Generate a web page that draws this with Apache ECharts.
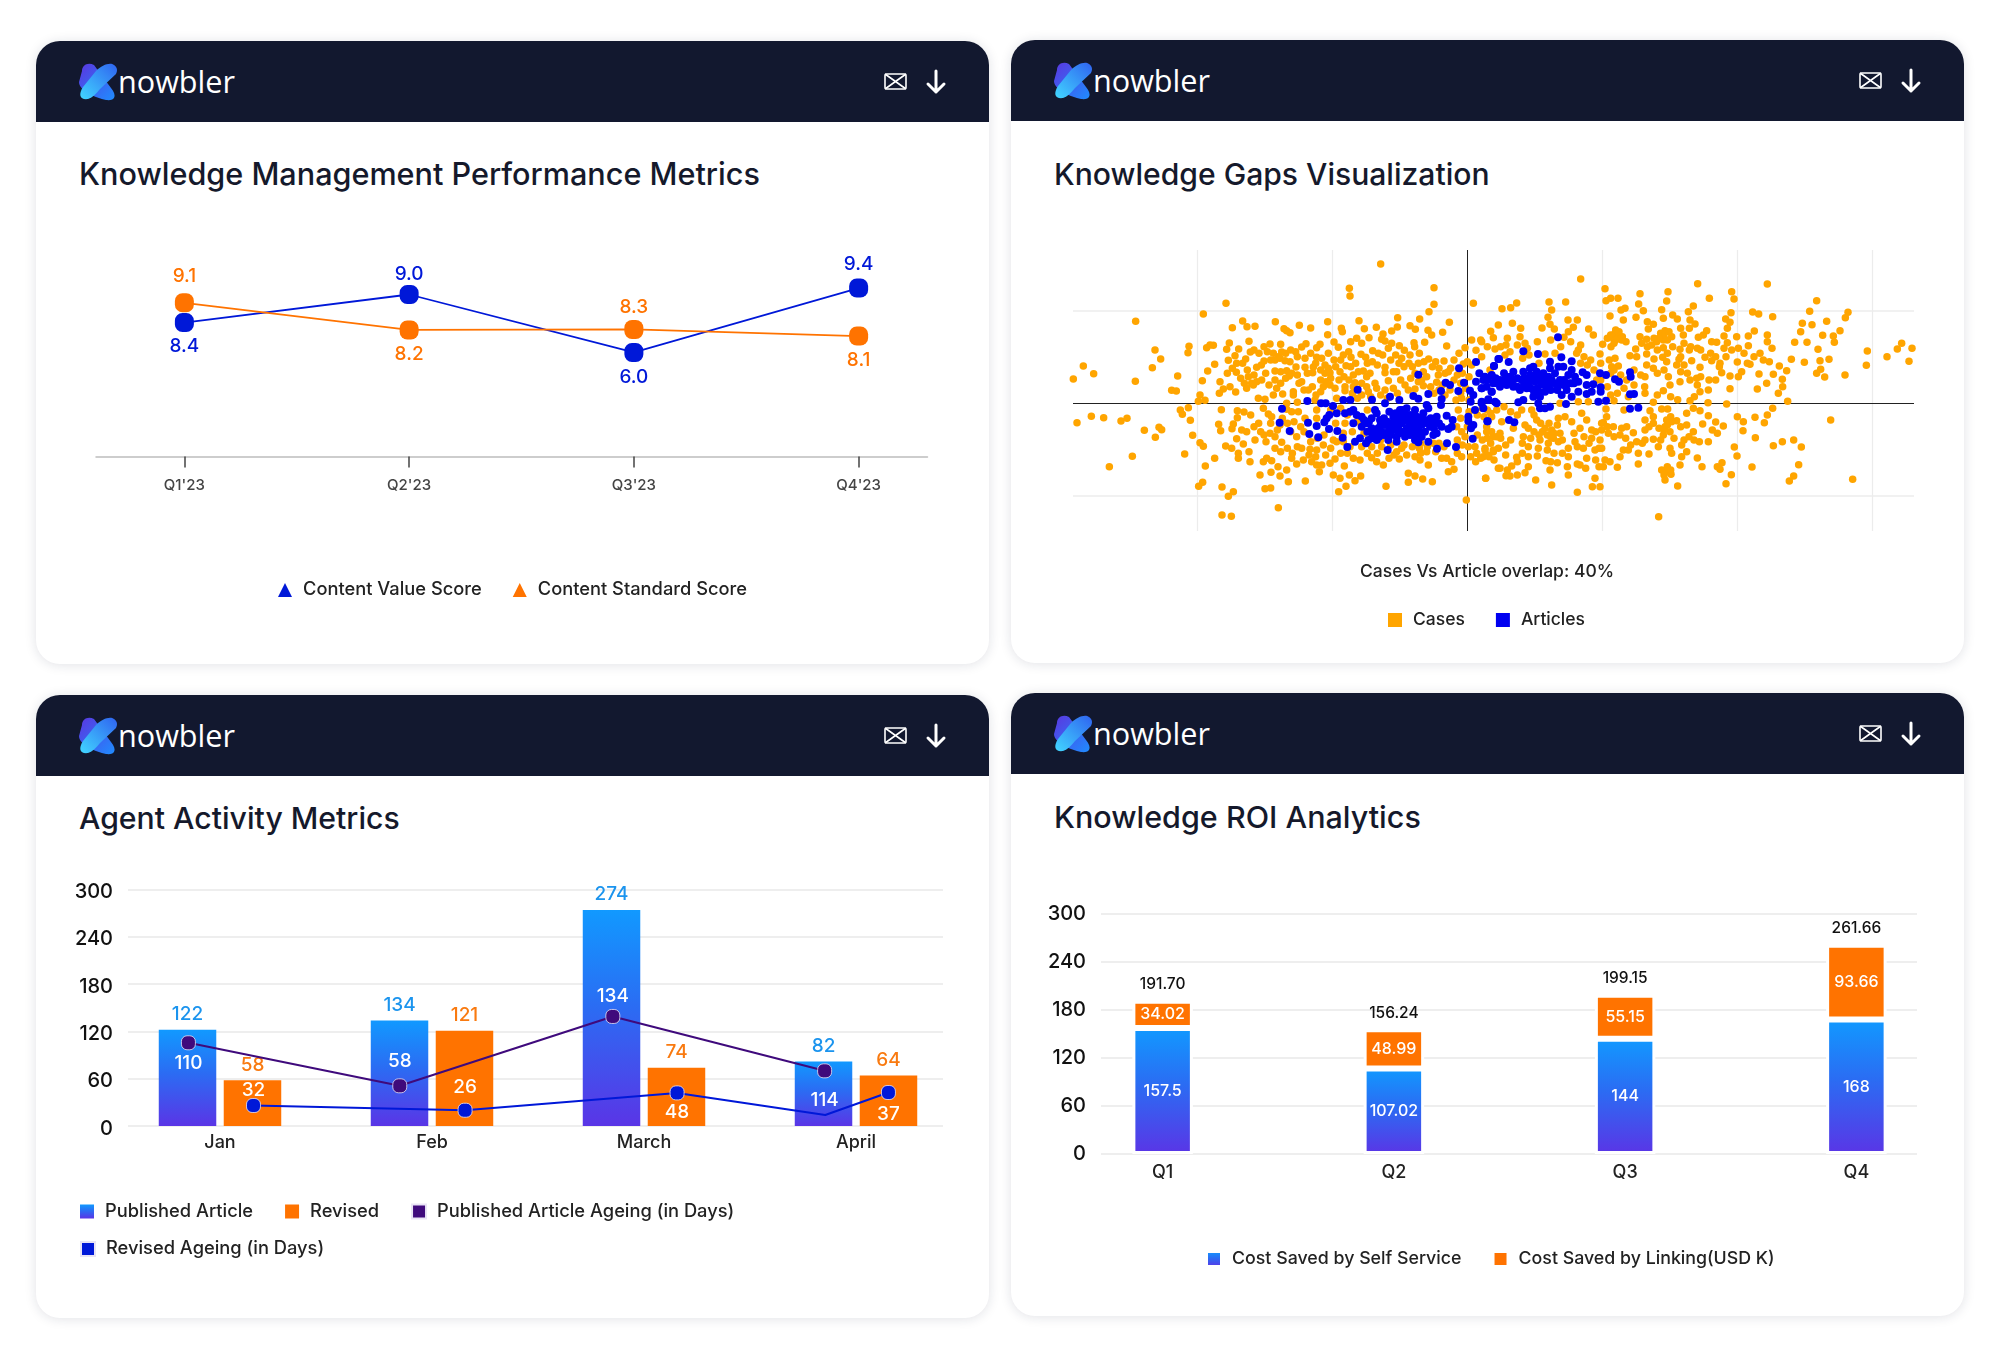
<!DOCTYPE html>
<html>
<head>
<meta charset="utf-8">
<title>Knowbler dashboards</title>
<script src="https://cdn.jsdelivr.net/npm/echarts@6/dist/echarts.min.js"></script>
<style>
html,body{margin:0;padding:0;background:#fff;width:2000px;height:1372px;overflow:hidden;font-family:Inter,"Noto Sans",sans-serif}
.card{position:absolute;width:953px;height:623px;border-radius:24px;background:#fff;box-shadow:0 1px 12px rgba(20,30,60,.13);overflow:hidden}
.head{position:absolute;left:0;top:0;width:100%;height:81px;background:#12182f}
.head svg{position:absolute;left:0;top:0}
.ttl{position:absolute;left:43px;font-weight:500;color:#15192b;white-space:nowrap;line-height:36px}
.cv{position:absolute;left:0;top:0;width:953px;height:623px}
</style>
</head>
<body>
<script>
// ---- Knowledge Management Performance Metrics
const quarters23 = ["Q1'23", "Q2'23", "Q3'23", "Q4'23"]
const valueScoreLabels = ['8.4', '9.0', '6.0', '9.4']
const standardScoreLabels = ['9.1', '8.2', '8.3', '8.1']
// where the points sit on the picture, they do not follow the printed labels exactly
const valueScore = [7.44, 9.0, 5.78, 9.36]
const standardScore = [8.54, 7.03, 7.06, 6.69]

// ---- Knowledge Gaps Visualization (one grid step: x 405, y 278)
const cases = [
[-1182,73],[-1152,112],[-1121,89],[-1171,-58],[-1128,-39],[-1091,-43],[-1039,-53],[-1021,-45],[-1074,-190],[-1005,-159],[-995,246],[-937,160],[-920,133],[-945,107],[-996,66],[-869,82],[-887,39],[-873,37],[-861,-20],[-855,-33],[-837,-13],[-831,-51],[-925,-72],[-917,-79],[-936,-102],[-969,-81],[-824,-96],[-848,-152],[-802,-118],[-792,-129],[-758,-165],[-786,-188],[-806,-249],[-794,-237],[-736,-251],[-702,-265],[-717,-279],[-736,-335],[-708,-339],[-567,-313],[-792,268],[-724,300],[-260,418],[-354,345],[-352,322],[-100,347],[-100,297],[-115,275],[18,300],[-3,-290],[55,-225],[-244,-249],[-364,-249],[-386,-265],
[-674,247],[-705,227],[-661,230],[-637,231],[-576,245],[-550,224],[-542,218],[-532,212],[-504,234],[-470,226],[-419,245],[-378,225],[-375,215],[-325,248],[-309,224],[-273,228],[-253,208],[-227,217],[-210,229],[-209,257],[-172,233],[-156,222],[-143,253],[-118,219],[-107,205],[-74,213],[-54,243],
[-835,171],[-838,152],[-782,167],[-772,175],[-762,174],[-722,162],[-714,181],[-686,163],[-697,143],[-655,186],[-651,154],[-610,170],[-592,178],[-560,177],[-582,150],[-567,140],[-557,154],[-497,169],[-484,179],[-452,167],[-442,177],[-419,206],[-400,184],[-387,168],[-417,150],[-372,145],[-350,185],[-332,195],[-317,180],[-295,197],[-356,155],[-349,138],[-319,147],[-305,138],[-284,158],[-257,192],[-247,187],[-227,180],[-237,165],[-267,150],[-254,145],[-204,173],[-189,159],[-160,182],[-158,170],[-144,150],[-172,145],[-197,135],[-128,183],[-62,172],[-7,167],[13,190],[40,190],[26,159],
[-717,129],[-692,120],[-674,120],[-665,133],[-758,117],[-779,97],[-795,68],[-693,93],[-657,80],[-632,108],[-618,115],[-610,127],[-577,130],[-562,135],[-547,128],[-532,125],[-510,140],[-487,135],[-452,138],[-437,135],[-514,109],[-487,108],[-462,109],[-427,115],[-417,105],[-577,97],[-560,95],[-542,98],[-527,90],[-534,82],[-480,90],[-464,92],[-427,90],[-412,92],[-382,95],[-364,113],[-247,108],[-147,120],[-116,133],[-70,127],[-50,105],[0,125],[-12,118],[-342,85],[-327,95],[-312,97],[-292,90],[-302,80],[-247,92],[-222,95],[-212,95],[-157,90],[-132,95],[-122,80],[-87,85],[-67,90],[-57,95],[13,115],[68,100],
[-742,65],[-712,50],[-732,43],[-744,30],[-695,34],[-802,25],[-807,6],[-787,9],[-669,60],[-647,60],[-632,65],[-662,45],[-617,70],[-642,55],[-577,70],[-572,45],[-582,25],[-554,28],[-627,15],[-607,12],[-522,35],[-522,25],[-497,65],[-465,50],[-477,40],[-454,25],[-424,65],[-412,55],[-397,45],[-432,50],[-367,50],[-367,38],[-337,62],[-342,50],[-317,60],[-302,50],[-277,60],[-272,45],[-317,25],[-297,35],[-247,40],[-237,68],[-222,45],[-187,55],[-177,40],[-147,65],[-137,70],[-132,53],[-157,43],[-92,63],[-52,40],[-67,25],[-17,15],[-34,10],[-542,0],[-510,3],[-457,10],[-392,15],
[-738,-19],[-690,-22],[-670,-26],[-690,-43],[-612,-15],[-597,-32],[-587,-40],[-626,-60],[-542,-18],[-527,-25],[-507,-25],[-487,-45],[-452,-20],[-452,-45],[-746,-63],[-740,-82],[-702,-62],[-706,-76],[-677,-80],[-662,-85],[-692,-106],[-637,-110],[-604,-115],[-592,-90],[-570,-80],[-562,-65],[-577,-100],[-557,-117],[-577,-135],[-672,-122],[-725,-128],[-707,-135],[-687,-150],[-687,-165],[-655,-145],[-652,-175],[-512,-100],[-510,-130],[-497,-135],[-472,-138],[-452,-140],[-432,-125],[-410,-135],[-392,-115],[-367,-60],[-372,-90],[-402,-110],[-372,-115],[-352,-130],[-317,-130],[-287,-130],[-257,-130],[-212,-145],[-197,-135],[-182,-155],[-157,-160],[-144,-135],[-122,-145],[-102,-120],[-77,-165],[-62,-165],[-47,-175],[-17,-160],[3,-130],[23,-130],[28,-150],[25,-175],[53,-135],[78,-140],[93,-195],[-27,-20],[-32,-70],[-17,-85],[-7,-100],[58,-70],[73,-85],[88,-100],
[-612,-175],[-602,-165],[-587,-172],[-568,-190],[-589,-207],[-622,-215],[-562,-218],[-542,-200],[-527,-165],[-512,-182],[-492,-170],[-467,-175],[-452,-185],[-437,-185],[-412,-180],[-397,-167],[-369,-188],[-444,-205],[-402,-215],[-537,-235],[-486,-233],[-382,-225],[-354,-215],[-320,-218],[-337,-232],[-607,-256],[-590,-254],[-342,-165],[-322,-170],[-287,-163],[-272,-175],[-252,-185],[-204,-167],[-142,-170],[-117,-185],[-40,-198],[-57,-205],[-177,-210],[-177,-237],[-157,-218],[-134,-227],[-105,-235],
[340,373],[413,344],[691,359],[900,358],[793,335],[800,313],[1048,308],[1142,273],[1134,257],[1027,276],[1078,246],[1005,240],[1034,236],[1000,215],[1118,218],[1066,204],[1098,202],[1101,183],[982,183],[1019,183],[1052,162],[1200,157],[1259,140],[1303,180],[1290,163],[1334,165],[1325,126],[1197,114],[1085,132],[1058,128],[1011,123],[972,132],[1060,102],[1048,90],[1072,79],[1133,85],[1090,-50],[1156,-228],[574,-340],[330,-267],[961,6],[916,-15],[900,-35],[891,-58],[863,-42],[828,-55],[810,-40],[827,-82],[864,-103],[801,-131],[809,-158],[918,-127],[945,-115],[979,-110],[1002,-131],[994,-184],[979,-218],[966,-233],[854,-191],[792,-214],[776,-241],[750,-190],[764,-178],[758,-198],[704,-190],[690,-164],[631,-248],[593,-230],[583,-200],[598,-205],[611,-213],[638,-185],[643,-160],[658,-145],
[518,329],[602,335],[598,307],[726,315],[416,308],[430,315],[452,315],[514,298],[473,285],[461,280],[528,278],[583,281],[678,292],[663,275],[791,272],[856,274],[874,268],[916,260],[428,262],[468,250],[506,258],[540,245],[558,237],[588,255],[616,265],[630,253],[668,250],[683,238],[775,253],[788,243],[780,225],[640,225],[666,225],[718,218],[543,223],[593,218],[443,210],[453,200],[438,195],[463,190],[476,185],[518,200],[538,192],[553,175],[568,185],[588,190],[613,200],[648,205],[693,198],[708,205],[733,185],[748,183],[770,202],[780,182],[808,200],[843,202],[861,217],[900,205],[900,185],[843,173],[813,165],[793,160],[914,165],[406,177],[431,170],[505,163],[523,180],[588,167],[616,170],[638,162],[666,160],[398,148],[488,143],[508,140],[538,148],[560,133],[586,138],[426,130],[443,135],[453,112],[538,115],[558,105],[598,125],[635,132],[628,115],[650,115],[673,128],[698,108],[713,138],[733,128],[758,120],[756,110],[776,140],[810,124],[848,117],[878,150],[888,130],[906,125],[936,112],[958,98],[763,92],[788,82],[823,95],[813,80],[875,88],[918,87],[945,72],[946,50],[933,30],[898,60],[870,43],[788,44],[723,40],[698,35],[668,70],[688,75],[638,65],[603,80],[608,55],[588,38],[533,80],[532,50],[533,30],[483,20],[558,3],[631,11],[668,8],[681,20],[722,2],[778,-2],[478,70],[433,110],[388,70],
[148,301],[130,287],[104,284],[245,304],[295,304],[253,280],[242,258],[135,240],[70,216],[93,235],[160,225],[224,226],[248,237],[261,223],[302,250],[330,250],[318,228],[303,215],[290,198],[364,223],[378,205],[78,197],[158,200],[173,180],[43,185],[83,163],[116,175],[128,155],[333,160],[328,150],[263,150],[233,148],[166,135],[113,145],[43,140],
[416,-17],[470,-20],[548,-22],[583,-17],[601,-17],[658,-30],[678,-15],[698,-22],[723,-37],[745,-56],[768,-68],[706,-62],[658,-65],[678,-85],[735,-80],[750,-90],[696,-115],[723,-115],[598,-50],[613,-55],[628,-52],[593,-70],[608,-85],[588,-95],[533,-50],[558,-40],[558,-60],[533,-80],[508,-115],[533,-110],[558,-108],[573,-130],[608,-135],[613,-150],[643,-125],[418,-40],[403,-60],[438,-70],[463,-75],[478,-70],[498,-88],[458,-95],[423,-90],[398,-110],[373,-105],[403,-135],[468,-140],[483,-140],[513,-150],[545,-152],[458,-160],[513,-182],[450,-192],[413,-170],[408,-190],[428,-175],[383,-225],[375,-250],[398,-250],[338,-185],[303,-215],[253,-245],[205,-230],[150,-215],[128,-218],[116,-217],[98,-195],[55,-225],[133,-188],[148,-162],[183,-190],[173,-208],[248,-200],[270,-178],[236,-172],[183,-160],[210,-158],[303,-160],[330,-182],[358,-165],[383,-140],[348,-135],[303,-135],[273,-115],[258,-105],[243,-120],[218,-110],[213,-135],[183,-130],[323,-115],[373,-80],[403,-80],[338,-75],[313,-55],[293,-40],[273,-45],[253,-80],[278,-90],[233,-75],[168,-100],[183,-75],[173,-65],[208,-50],[98,-90],[78,-100],[58,-85],[93,-135],[78,-145],[53,-140],[48,-160],[138,-75],[103,-55],[73,-40],[88,-20],[163,-20],[193,-20],[358,-50],[343,-30],[408,-58],[278,0],[333,5],[363,5],
[-640,160],[-625,150],[-600,155],[-590,130],[-545,150],[-530,160],[-515,155],[-470,150],[-455,120],[-440,100],[-400,130],[-395,110],[-380,130],[-350,110],[-335,120],[-300,120],[-285,125],[-270,115],[-230,130],[-215,145],[-205,120],[-190,110],[-175,120],[-165,110],[-130,125],[-105,110],[-95,125],[-85,105],[-40,130],[-25,150],[-30,85],[-15,90],[5,80],
[-720,90],[-705,105],[-680,75],[-660,100],[-640,85],[-605,90],[-595,55],[-560,60],[-545,75],[-510,85],[-505,60],[-490,40],[-440,70],[-440,35],[-410,75],[-385,70],[-370,80],[-355,70],[-345,30],[-330,15],[-290,20],[-260,25],[-240,15],[-210,30],[-200,70],[-170,75],[-110,50],[-100,30],[-85,40],[-75,55],[-40,70],[-20,60],[-5,45],[-20,30],[5,10],
[-650,-35],[-640,-70],[-620,-85],[-610,-95],[-590,-60],[-555,-45],[-540,-60],[-530,-85],[-520,-55],[-500,-70],[-490,-85],[-470,-115],[-450,-105],[-430,-95],[-410,-20],[-395,-60],[-380,-15],[-360,-35],[-345,-85],[-330,-55],[-310,-90],[-300,-20],[-260,-110],[-230,-125],[-190,-125],[-165,-130],[-140,-120],[-120,-130],[-85,-120],[-70,-130],[-30,-110],[-15,-125],[0,-70],[5,-25],[30,-35],[45,-15],[50,-40],[70,-30],[-20,-45],[30,-95],[45,-110],[60,-105],[-560,-145],[-540,-135],[-525,-150],[-475,-155],[-455,-160],[-425,-155],[-380,-150],[-360,-150],[-300,-150],[-270,-150],[-235,-165],[-220,-155],[-140,-150],[-95,-145],[-30,-150],[10,-160],[40,-165],[60,-155],[80,-170],
[430,205],[445,190],[455,215],[465,200],[440,180],[420,195],[445,220],[580,210],[590,205],[605,215],[575,195],[600,190],[560,195],[540,170],[570,160],[600,150],[650,180],[670,170],[690,165],[640,140],[700,160],[730,150],[745,140],[770,165],[830,150],[860,140],[840,120],[440,100],[460,85],[430,90],[500,100],[520,85],[570,90],[590,100],[640,95],[660,90],[700,80],[725,70],[745,70],[690,55],[610,20],[570,25],[500,55],[470,45],[450,30],[430,25],[400,70],[420,50],[440,8],
[60,-20],[110,-10],[130,-25],[150,-35],[200,-35],[220,-60],[245,-60],[260,-90],[270,-65],[285,-110],[250,-100],[240,-95],[225,-85],[215,-95],[200,-85],[190,-105],[165,-120],[130,-110],[115,-125],[100,-105],[70,-120],[65,-160],[115,-155],[165,-150],[240,-140],[260,-150],[285,-150],[330,-130],[365,-120],[395,-135],[350,-100],[320,-90],[385,-85],[420,-70],[440,-100],[475,-105],[545,-70],[575,-75],[590,-80],[600,-65],[610,-40],[640,-70],[580,-110],[525,-120],[490,-125],[620,-105],[650,-110],[665,-100],[680,-110],[250,-175],[300,-190],[355,-195],[385,-170],[395,-190],[590,-215],[600,-190],[610,-200],[150,-175],[120,-200],
[120,195],[150,175],[180,165],[210,185],[250,190],[280,170],[310,185],[340,175],[350,140],[100,170],[60,170],[185,145],[215,120],[340,120],[370,130],[380,100],[400,120],[360,115]
]
const articles = [
[-556,-16],[-563,-58],[-533,-83],[-480,7],[-478,-58],[-474,-92],[-452,-68],[-447,-102],[-439,0],[-425,0],[-403,-8],[-414,-35],[-422,-45],[-429,-57],[-415,-77],[-390,-83],[-374,-103],[-360,-131],[-372,10],[-351,10],[-329,41],[-286,11],[-392,-30],[-367,-30],[-342,-20],[-332,-35],[-342,-60],[-317,-70],[-337,-115],[-322,-105],[-304,-120],[-287,-105],[-277,-90],[-267,-75],[-287,-75],[-302,-60],[-287,-45],[-272,-30],[-277,-20],[-247,-65],[-232,-70],[-217,-55],[-202,-40],[-202,-20],[-187,-35],[-197,-60],[-182,-75],[-167,-55],[-172,-95],[-157,-110],[-147,-117],[-212,-115],[-237,-110],[-239,-140],[-147,-80],[-137,-65],[-127,-50],[-132,-30],[-117,-15],[-117,-115],[-102,-95],[-92,-90],[-91,-136],[-61,-120],[-34,-131],[-92,-40],[-62,-37],[-77,-70],[-57,-77],[-44,-50],[-47,-70],[-247,0],[-232,20],[-204,10],[-234,-25],[-162,22],[-147,14],[-122,-5],[-117,28],[-147,86],[-65,62],[-52,55],[-25,105],[26,124],[-79,37],[-77,13],[-79,-5],[-27,37],[-10,62],[8,38],[18,25],[10,5],[23,-20],[3,-40],[3,-53],[18,-65],[11,-75],[16,-106],[61,-54],[26,65],[43,45],[36,90],[53,80],[73,85],[80,112],[93,133],[43,5],[63,12],[73,35],[88,60],[83,5],
[-262,-50],[-257,-85],[-222,-80],[-212,-100],[-187,-100],[-162,-70],[-182,-15],[-207,-75],[-137,-100],[-112,-70],[-102,-55],[-152,-40],[-317,-40],[-352,-25],[-297,-110],[-272,-110],[-222,-40],[-172,-35],[-157,-20],[-127,-85],[-237,-85],[-192,-50],[-177,-55],
[272,198],[168,156],[212,148],[282,138],[313,126],[95,133],[124,124],[80,112],[198,110],[248,125],[248,105],[273,110],[288,110],[313,100],[346,93],[358,85],[398,90],[416,85],[443,72],[455,65],[488,93],[490,80],[400,48],[400,35],[378,57],[358,55],[358,28],[373,35],[393,5],[416,8],[488,27],[500,28],[488,-16],[513,-13],[60,-54],[125,-50],[141,-57],
[48,70],[73,82],[98,70],[118,80],[138,95],[138,70],[168,95],[188,105],[188,85],[208,95],[228,90],[243,80],[263,90],[278,70],[303,85],[323,80],[333,65],[313,60],[298,40],[283,25],[313,20],[333,35],[263,60],[243,50],[223,60],[203,65],[183,60],[163,70],[138,50],[118,55],[98,50],[78,60],[58,50],[43,45],[73,35],[198,20],[218,20],[233,35],[213,0],[218,-15],[233,-15],[248,-10],[296,-2],[153,3],[88,0],[63,10],[43,0],[48,-15],[168,10],[158,40],[178,45],[253,70],[233,70],[213,80],[193,75],[288,55],
[-310,-50],[-295,-55],[-260,-65],[-250,-45],[-240,-55],[-225,-60],[-210,-65],[-195,-45],[-180,-40],[-170,-65],[-155,-60],[-145,-50],[-135,-45],[-120,-60],[-110,-45],[-100,-75],[-85,-60],[-230,-95],[-205,-90],[-190,-85],[-175,-85],[-160,-90],[-145,-95],[-250,-95],[-265,-100],[-285,-90],[-300,-85],[-160,-40],[-200,-55],[-215,-30],[-195,-20],
[100,65],[115,65],[130,60],[150,75],[170,75],[185,70],[200,80],[215,70],[230,80],[250,60],[270,55],[290,70],[305,60],[320,60],[150,50],[170,55],[190,45],[210,45],[230,55],[250,40],[270,40],[200,35],[215,35],[130,80],[110,90],[85,75],[60,70]
]
const gapGridX = [-810, -405, 405, 810, 1215]
const gapGridY = [-278, 278]

// ---- Agent Activity Metrics
const months = ['Jan', 'Feb', 'March', 'April']
const publishedArticle = [122, 134, 274, 82]
const revised = [58, 121, 74, 64]
const publishedAgeingAt = [[0.351, 105.6], [1.348, 51], [2.353, 139], [3.352, 70]]
const revisedAgeingAt = [[0.658, 26], [1.656, 20], [2.656, 42], [3.355, 14], [3.653, 42.5]]
const publishedAgeingLabels = ['110', '58', '134', '114']
const revisedAgeingLabels = ['32', '26', '48', '', '37']
const publishedAgeingSide = [['bottom', 4], ['top', 8], ['top', 3], ['bottom', 13]]
const revisedAgeingSide = [['top', -2], ['top', 6], ['bottom', 2], ['top', 0], ['bottom', 5]]

// ---- Knowledge ROI Analytics
const roiQuarters = ['Q1', 'Q2', 'Q3', 'Q4']
const selfService = [157.5, 107.02, 144, 168]
const linking = [34.02, 48.99, 55.15, 93.66]
const roiTotals = ['191.70', '156.24', '199.15', '261.66']

const FONT = 'Inter'
const BLUE = '#0018d8'
const ORANGE = '#ff7300'
const PURPLE = '#3f0a7c'
const ROUND = 'path://M4 0h2a4 4 0 0 1 4 4v2a4 4 0 0 1-4 4h-2a4 4 0 0 1-4-4v-2a4 4 0 0 1 4-4z'
const barBlue = new echarts.graphic.LinearGradient(0, 0, 0, 1, [
    { offset: 0, color: '#1199ff' },
    { offset: 0.45, color: '#2b6cf3' },
    { offset: 1, color: '#5a35e6' }
])
const gridLine = { show: true, lineStyle: { color: '#e8e8e8', width: 1.5 } }

function addCard(left, top, title, titleTop, titleSize) {
    let card = document.createElement('div')
    card.className = 'card'
    card.style.left = left + 'px'
    card.style.top = top + 'px'
    card.innerHTML = `
      <div class="head"><svg width="953" height="81" viewBox="0 0 953 81">
        <defs>
          <linearGradient id="a${left}${top}" x1="0" y1="0" x2="1" y2="1"><stop offset="0" stop-color="#5a36e0"/><stop offset="1" stop-color="#1f8cff"/></linearGradient>
          <linearGradient id="b${left}${top}" x1="1" y1="0" x2="0" y2="1"><stop offset="0" stop-color="#2f63f0"/><stop offset="1" stop-color="#41d6ff"/></linearGradient>
        </defs>
        <path d="M46 30 C46 24 52 21 58 24 L75 47 C82 56 78 60 70 59 C60 57 43 50 43 41 Z" fill="url(#a${left}${top})"/>
        <path d="M78 24 C74 21 66 24 60 30 L47 46 C42 54 44 59 52 58 C56 57 60 53 64 48 L80 33 C82 29 81 26 78 24 Z" fill="url(#b${left}${top})"/>
        <text x="82" y="52" fill="#fff" font-family="Open Sans" font-size="31" font-weight="400" textLength="117" lengthAdjust="spacingAndGlyphs">nowbler</text>
        <g fill="none" stroke="#fff" stroke-width="1.6"><rect x="849" y="33" width="21" height="15" rx="1.5"/><path d="M849 33 L870 48 M870 33 L849 48"/></g>
        <path d="M900 30 V51 M892 43 L900 51 L908 43" fill="none" stroke="#fff" stroke-width="3" stroke-linecap="round" stroke-linejoin="round"/>
      </svg></div>
      <div class="ttl" style="top:${titleTop}px;font-size:${titleSize}px">${title}</div>
      <div class="cv"></div>`
    document.body.appendChild(card)
    return window.echarts.init(card.querySelector('.cv'))
}

function legendAt(left, top, icon, names, gap, size) {
    return {
        left: left, top: top, icon: icon, data: names, itemWidth: 14, itemHeight: 14,
        itemGap: gap, padding: 0, selectedMode: false,
        textStyle: { fontFamily: FONT, fontSize: size || 18.3, fontWeight: 500, color: '#222', padding: [0, 0, 0, 6] }
    }
}

// ---- top left
let perf = addCard(36, 41, 'Knowledge Management Performance Metrics', 115, 30.6)
function scoreSeries(name, values, labels, color, sides) {
    return {
        name: name, type: 'line', xAxisIndex: 1, yAxisIndex: 1,
        symbol: ROUND, symbolSize: 19, color: color,
        lineStyle: { color: color, width: 1.8 },
        data: values.map((v, i) => ({ value: v, label: { position: sides[i][0], distance: sides[i][1] } })),
        label: {
            show: true, color: color, fontFamily: FONT, fontSize: 19, fontWeight: 500,
            formatter: p => labels[p.dataIndex]
        }
    }
}
perf.setOption({
    animation: false,
    legend: legendAt(242, 540, 'triangle', ['Content Value Score', 'Content Standard Score'], 31),
    grid: [
        { left: 60, width: 831.5, top: 235.5, height: 180 },
        { left: 36, width: 899, top: 235.5, height: 180 }
    ],
    xAxis: [
        { gridIndex: 0, type: 'category', data: quarters23, axisLine: { lineStyle: { color: '#bdbdbd', width: 1.5 } }, axisTick: { show: false }, axisLabel: { show: false } },
        {
            gridIndex: 1, type: 'category', data: quarters23, axisLine: { show: false },
            axisTick: { show: true, alignWithLabel: true, length: 11, lineStyle: { color: '#444', width: 1.5 } },
            axisLabel: { margin: 21, color: '#444', fontFamily: FONT, fontSize: 15, fontWeight: 500 }
        }
    ],
    yAxis: [
        { gridIndex: 0, type: 'value', min: 0, max: 10, show: false },
        { gridIndex: 1, type: 'value', min: 0, max: 10, show: false }
    ],
    series: [
        scoreSeries('Content Value Score', valueScore, valueScoreLabels, BLUE, [['bottom', 5], ['top', 1], ['bottom', 6], ['top', 5]]),
        scoreSeries('Content Standard Score', standardScore, standardScoreLabels, ORANGE, [['top', 7], ['bottom', 5], ['top', 3], ['bottom', 5]])
    ]
})

// ---- top right
let gaps = addCard(1011, 40, 'Knowledge Gaps Visualization', 116, 30.1)
function guide(value, key, color, width) {
    return { [key]: value, lineStyle: { color: color, width: width, type: 'solid' } }
}
gaps.setOption({
    animation: false,
    title: {
        text: 'Cases Vs Article overlap: 40%', left: 471, top: 518, textAlign: 'center',
        textStyle: { fontFamily: FONT, fontSize: 17.5, fontWeight: 500, color: '#222' }
    },
    legend: legendAt(377, 571, 'rect', ['Cases', 'Articles'], 31, 17.5),
    grid: { left: 62, width: 841, top: 210, height: 281 },
    xAxis: { type: 'value', min: -1183, max: 1340, axisLine: { show: false }, axisTick: { show: false }, axisLabel: { show: false }, splitLine: { show: false } },
    yAxis: { type: 'value', min: -383, max: 460, axisLine: { show: false }, axisTick: { show: false }, axisLabel: { show: false }, splitLine: { show: false } },
    series: [
        {
            name: 'guides', type: 'scatter', data: [], z: 1,
            markLine: {
                silent: true, z: 1, symbol: ['none', 'none'], label: { show: false }, animation: false,
                data: [
                    ...gapGridX.map(v => guide(v, 'xAxis', '#ececec', 1.2)),
                    ...gapGridY.map(v => guide(v, 'yAxis', '#ececec', 1.5)),
                    guide(0, 'xAxis', '#222', 1),
                    guide(0, 'yAxis', '#222', 1)
                ]
            }
        },
        { name: 'Cases', type: 'scatter', data: cases, symbolSize: 7.5, itemStyle: { color: '#ffa500', opacity: 1 }, z: 2 },
        { name: 'Articles', type: 'scatter', data: articles, symbolSize: 8, itemStyle: { color: '#0000f0', opacity: 1 }, z: 3 }
    ]
})

// ---- bottom left
let agent = addCard(36, 695, 'Agent Activity Metrics', 105, 30.2)
function ageingSeries(name, points, labels, sides, color) {
    return {
        name: name, type: 'line', xAxisIndex: 2, yAxisIndex: 1, color: color, z: 5,
        symbol: ROUND, lineStyle: { color: color, width: 2 },
        itemStyle: { color: color, borderColor: '#e9e4f5', borderWidth: 0.8 },
        data: points.map((p, i) => ({
            value: p,
            symbolSize: labels[i] === '' ? 0 : 14,
            label: { position: sides[i][0], distance: sides[i][1] }
        })),
        label: {
            show: true, color: '#fff', fontFamily: FONT, fontSize: 19, fontWeight: 500,
            formatter: p => labels[p.dataIndex]
        }
    }
}
function countBar(name, values, color, labelColor) {
    return {
        name: name, type: 'bar', xAxisIndex: 1, yAxisIndex: 1, data: values, color: color,
        barWidth: 57.5, barGap: '13%',
        label: { show: true, position: 'top', distance: 6, color: labelColor, fontFamily: FONT, fontSize: 19, fontWeight: 500 }
    }
}
agent.setOption({
    animation: false,
    legend: [
        legendAt(44, 507.5, 'rect', ['Published Article', 'Revised', 'Published Article Ageing (in Days)'], 32),
        legendAt(44, 545, 'rect', ['Revised Ageing (in Days)'], 31)
    ],
    grid: [
        { left: 92, width: 815, top: 194.6, height: 236.4 },
        { left: 78, width: 848, top: 194.6, height: 236.4 }
    ],
    xAxis: [
        { gridIndex: 0, type: 'category', data: months, show: false },
        {
            gridIndex: 1, type: 'category', data: months, axisLine: { show: false }, axisTick: { show: false },
            axisLabel: { margin: 8, color: '#222', fontFamily: FONT, fontSize: 18, fontWeight: 500 }
        },
        { gridIndex: 1, type: 'value', min: 0, max: 4, show: false }
    ],
    yAxis: [
        {
            gridIndex: 0, type: 'value', min: 0, max: 300, interval: 60, splitLine: gridLine,
            axisLine: { show: false }, axisTick: { show: false },
            axisLabel: {
                margin: 15, formatter: '{a|{value}}',
                rich: { a: { padding: [5, 0, 0, 0], color: '#111', fontFamily: FONT, fontSize: 20, fontWeight: 500 } }
            }
        },
        { gridIndex: 1, type: 'value', min: 0, max: 300, show: false }
    ],
    series: [
        countBar('Published Article', publishedArticle, barBlue, '#1b94ee'),
        countBar('Revised', revised, ORANGE, '#f97a10'),
        ageingSeries('Published Article Ageing (in Days)', publishedAgeingAt, publishedAgeingLabels, publishedAgeingSide, PURPLE),
        ageingSeries('Revised Ageing (in Days)', revisedAgeingAt, revisedAgeingLabels, revisedAgeingSide, BLUE)
    ]
})

// ---- bottom right
let roi = addCard(1011, 693, 'Knowledge ROI Analytics', 106, 30.5)
function roiBar(name, values, color) {
    return {
        name: name, type: 'bar', stack: 'roi', xAxisIndex: 1, yAxisIndex: 1, data: values, color: color,
        barWidth: 60.5, itemStyle: { borderColor: '#fff', borderWidth: 3 },
        label: { show: true, position: 'inside', color: '#fff', fontFamily: FONT, fontSize: 16, fontWeight: 500 }
    }
}
roi.setOption({
    animation: false,
    legend: legendAt(195, 557, 'rect', ['Cost Saved by Self Service', 'Cost Saved by Linking(USD K)'], 31, 17.8),
    grid: [
        { left: 90, width: 816, top: 221, height: 240 },
        { left: 36, width: 925, top: 221, height: 240, outerBoundsMode: 'none' }
    ],
    xAxis: [
        { gridIndex: 0, type: 'category', data: roiQuarters, show: false },
        {
            gridIndex: 1, type: 'category', data: roiQuarters, axisLine: { show: false }, axisTick: { show: false },
            axisLabel: { margin: 10, color: '#222', fontFamily: FONT, fontSize: 18, fontWeight: 500 }
        }
    ],
    yAxis: [
        {
            gridIndex: 0, type: 'value', min: 0, max: 300, interval: 60, splitLine: gridLine,
            axisLine: { show: false }, axisTick: { show: false },
            axisLabel: { margin: 15, color: '#111', fontFamily: FONT, fontSize: 20, fontWeight: 500 }
        },
        { gridIndex: 1, type: 'value', min: 0, max: 300, show: false }
    ],
    series: [
        roiBar('Cost Saved by Self Service', selfService, barBlue),
        roiBar('Cost Saved by Linking(USD K)', linking, ORANGE),
        {
            name: 'Total', type: 'line', xAxisIndex: 1, yAxisIndex: 1, data: roiTotals.map(Number),
            symbol: 'circle', symbolSize: 0, lineStyle: { width: 0 }, itemStyle: { color: 'transparent' },
            label: { show: true, position: 'top', distance: 8, color: '#111', fontFamily: FONT, fontSize: 15.5, fontWeight: 500, formatter: p => roiTotals[p.dataIndex] }
        }
    ]
})
</script>
</body>
</html>
